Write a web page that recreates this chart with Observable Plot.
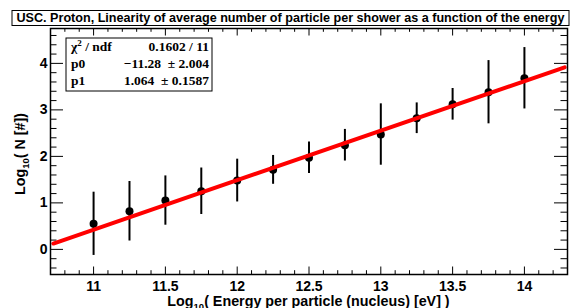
<!DOCTYPE html>
<html>
<head>
<meta charset="utf-8">
<script src="https://cdn.jsdelivr.net/npm/d3@7"></script>
<script src="https://cdn.jsdelivr.net/npm/@observablehq/plot@0.6"></script>
<style>
  html, body { margin: 0; padding: 0; background: #fff; }
  #chart { width: 578px; height: 308px; overflow: hidden; }
</style>
</head>
<body>
<div id="chart"></div>
<script>
// ---- Data ----
const energies = [11, 11.25, 11.5, 11.75, 12, 12.25, 12.5, 12.75, 13, 13.25, 13.5, 13.75, 14];
const logN     = [0.55, 0.82, 1.05, 1.25, 1.48, 1.71, 1.97, 2.24, 2.47, 2.82, 3.12, 3.38, 3.68];
const logNErr  = [0.68, 0.64, 0.53, 0.50, 0.46, 0.31, 0.34, 0.34, 0.66, 0.33, 0.34, 0.68, 0.66];
const fitP0 = -11.28, fitP0Err = 2.004;
const fitP1 = 1.064,  fitP1Err = 0.1587;
const chi2 = 0.1602, ndf = 11;
const fitRange = [10.72, 14.28];
const xTickLabels = [11, 11.5, 12, 12.5, 13, 13.5, 14];
const yTickLabels = [0, 1, 2, 3, 4];
const titleText = "USC. Proton, Linearity of average number of particle per shower as a function of the energy";

// ---- Layout ----
const W = 578, H = 308;
const mL = 50, mR = 11, mT = 28, mB = 34;
const fw = W - mL - mR, fh = H - mT - mB;
const xDomain = [10.7, 14.3], yDomain = [-0.54, 4.75];
const sans = "Liberation Sans, Arial, Helvetica, sans-serif";
const serif = "Liberation Serif, Times New Roman, serif";

const points = energies.map((x, i) => ({x, y: logN[i], e: logNErr[i]}));
const fitPts = fitRange.map(x => ({x, y: fitP0 + fitP1 * x}));
const xMinor = d3.range(10.7, 14.31, 0.1).map(v => +v.toFixed(2)).filter(v => !xTickLabels.some(t => Math.abs(t - v) < 1e-6));
const yMinor = d3.range(-0.4, 4.75, 0.2).map(v => +v.toFixed(2)).filter(v => !yTickLabels.some(t => Math.abs(t - v) < 1e-6));

const xMajLen = 7.5, xMinLen = 3.8, yMajLen = 13, yMinLen = 6.5;
const tickStyle = {stroke: "black", strokeWidth: 1};

const plot = Plot.plot({
  width: W, height: H,
  marginLeft: mL, marginRight: mR, marginTop: mT, marginBottom: mB,
  x: {domain: xDomain, axis: null},
  y: {domain: yDomain, axis: null},
  style: {background: "white", color: "black", fontFamily: sans},
  marks: [
    // ticks (inside, all four sides)
    Plot.ruleX(xTickLabels, {x: d => d, insetTop: fh - xMajLen, ...tickStyle}),
    Plot.ruleX(xTickLabels, {x: d => d, insetBottom: fh - xMajLen, ...tickStyle}),
    Plot.ruleX(xMinor, {x: d => d, insetTop: fh - xMinLen, ...tickStyle}),
    Plot.ruleX(xMinor, {x: d => d, insetBottom: fh - xMinLen, ...tickStyle}),
    Plot.ruleY(yTickLabels, {y: d => d, insetRight: fw - yMajLen, ...tickStyle}),
    Plot.ruleY(yTickLabels, {y: d => d, insetLeft: fw - yMajLen, ...tickStyle}),
    Plot.ruleY(yMinor, {y: d => d, insetRight: fw - yMinLen, ...tickStyle}),
    Plot.ruleY(yMinor, {y: d => d, insetLeft: fw - yMinLen, ...tickStyle}),
    // tick labels
    Plot.axisX(xTickLabels, {tickSize: 0, tickPadding: 7, fontSize: 14, fontWeight: "bold", tickFormat: d => String(d), label: null}),
    Plot.axisY(yTickLabels, {tickSize: 0, tickPadding: 3, fontSize: 14, fontWeight: "bold", tickFormat: d => String(d), label: null}),
    // data
    Plot.ruleX(points, {x: "x", y1: d => d.y - d.e, y2: d => d.y + d.e, stroke: "black", strokeWidth: 2}),
    Plot.dot(points, {x: "x", y: "y", r: 4, fill: "black", stroke: "none"}),
    Plot.line(fitPts, {x: "x", y: "y", stroke: "#ff0000", strokeWidth: 4}),
    Plot.frame({stroke: "black", strokeWidth: 1.5})
  ]
});
document.getElementById("chart").appendChild(plot);

const svg = d3.select(plot);

// Title box
const tb = {x: 12, y: 10.5, w: 557, h: 15};
svg.append("rect").attr("x", tb.x).attr("y", tb.y).attr("width", tb.w).attr("height", tb.h)
  .attr("fill", "white").attr("stroke", "black").attr("stroke-width", 1);
svg.append("text").attr("x", tb.x + tb.w / 2).attr("y", tb.y + 11.8)
  .attr("text-anchor", "middle").attr("font-size", 12.6).attr("font-weight", "bold")
  .attr("font-family", sans).text(titleText);

// Stats box
const sb = {x: 66, y: 38, w: 146, h: 53};
svg.append("rect").attr("x", sb.x).attr("y", sb.y).attr("width", sb.w).attr("height", sb.h)
  .attr("fill", "white").attr("stroke", "black").attr("stroke-width", 1);
const rows = [
  {label: null, value: `${chi2} / ${ndf}`},
  {label: "p0", value: `${String(fitP0).replace("-", "\u2212")}\u2002\u00b1 ${fitP0Err}`},
  {label: "p1", value: `${fitP1}\u2002\u00b1 ${fitP1Err}`}
];
rows.forEach((r, i) => {
  const yb = sb.y + 13 + i * 17;
  const t = svg.append("text").attr("x", sb.x + 5).attr("y", yb).attr("text-anchor", "start")
    .attr("font-family", serif).attr("font-weight", "bold").attr("font-size", 13.5);
  if (r.label === null) {
    t.append("tspan").text("\u03c7");
    t.append("tspan").attr("dy", -5).attr("font-size", 9).text("2");
    t.append("tspan").attr("dy", 5).text(" / ndf");
  } else {
    t.text(r.label);
  }
  svg.append("text").attr("x", sb.x + sb.w - 3).attr("y", yb)
    .attr("text-anchor", "end").attr("font-family", serif).attr("font-weight", "bold")
    .attr("font-size", 13.5).text(r.value);
});

// X axis title
const xt = svg.append("text").attr("x", mL + fw / 2).attr("y", 305.5)
  .attr("text-anchor", "middle").attr("font-size", 14.3).attr("font-weight", "bold").attr("font-family", sans);
xt.append("tspan").text("Log");
xt.append("tspan").attr("dy", 4).attr("font-size", 9.5).text("10");
xt.append("tspan").attr("dy", -4).text("( Energy per particle (nucleus) [eV] )");

// Y axis title
const yt = svg.append("text").attr("transform", `translate(25,${mT + fh / 2 + 3}) rotate(-90)`)
  .attr("text-anchor", "middle").attr("font-size", 14.3).attr("font-weight", "bold").attr("font-family", sans);
yt.append("tspan").text("Log");
yt.append("tspan").attr("dy", 4).attr("font-size", 9.5).text("10");
yt.append("tspan").attr("dy", -4).text("( N [#])");
</script>
</body>
</html>
